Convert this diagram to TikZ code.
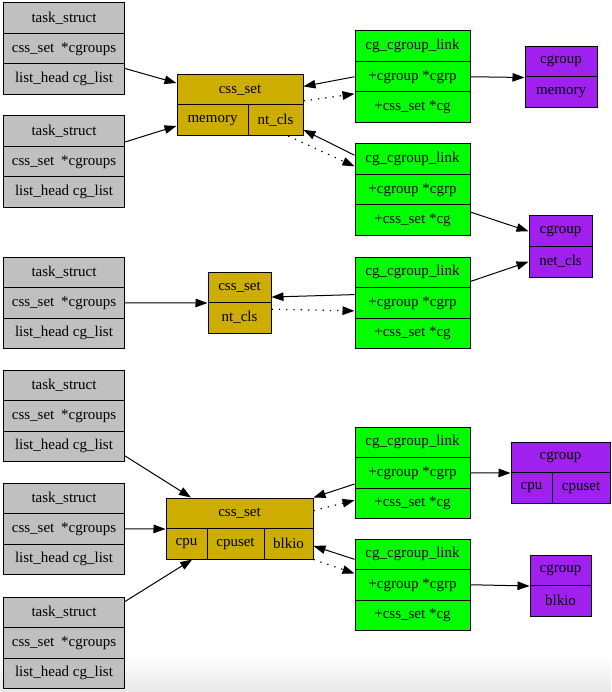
\documentclass[tikz,border=0pt]{standalone}
\usepackage{fontspec}
\setmainfont{Liberation Serif}
\usetikzlibrary{arrows.meta}

\definecolor{tskgray}{HTML}{C0C0C0}
\definecolor{csetgold}{HTML}{CDAD00}
\definecolor{lnkgreen}{HTML}{00FF00}
\definecolor{cgrppurple}{HTML}{A020F0}

\tikzset{
  fld/.style={draw, line width=1pt, inner sep=0pt, minimum height=30.5pt,
    font=\rmfamily\fontsize{15}{18}\selectfont},
  tsk/.style={fld, fill=tskgray, minimum width=121pt},
  lnk/.style={fld, fill=lnkgreen, minimum width=115pt},
  cset/.style={fld, fill=csetgold},
  cgrp/.style={fld, fill=cgrppurple},
  ptr/.style={->, line width=1pt},
  back/.style={->, line width=1.2pt, dash pattern=on 1.3pt off 6pt},
}

\begin{document}
\begin{tikzpicture}[x=1pt,y=-1pt,>={Triangle[length=12pt,width=8.5pt]}]

\useasboundingbox (0,0) rectangle (611,692);
\shade[top color=white,bottom color=black!9] (0,655) rectangle (611,692);

% task_struct
\foreach \i/\y in {1/3,2/116,3/257,4/370,5/483,6/597}{
  \node[tsk] (ts\i-a) at (64,\y+15.25) {task\_struct};
  \node[tsk] (ts\i-b) at (64,\y+45.75) {css\_set\hspace{3pt} *cgroups};
  \node[tsk] (ts\i-c) at (64,\y+76.25) {list\_head cg\_list};
}

% cg_cgroup_link
\foreach \i/\y in {1/31,2/144,3/257,4/427,5/539}{
  \node[lnk] (lk\i-a) at (412.5,\y+15.25) {cg\_cgroup\_link};
  \node[lnk] (lk\i-b) at (412.5,\y+45.75) {+cgroup *cgrp};
  \node[lnk] (lk\i-c) at (412.5,\y+76.25) {+css\_set *cg};
}

% css_set
\node[cset,minimum width=126pt] (css1-a) at (240,89.75) {css\_set};
\node[cset,minimum width=71pt] (css1-m) at (212.5,120.25) {memory};
\node[cset,minimum width=55pt] (css1-n) at (275.5,120.25) {nt\_cls};

\node[cset,minimum width=63pt] (css2-a) at (239.5,287.25) {css\_set};
\node[cset,minimum width=63pt] (css2-b) at (239.5,317.75) {nt\_cls};

\node[cset,minimum width=147pt] (css3-a) at (239.5,513.25) {css\_set};
\node[cset,minimum width=41pt] (css3-c) at (186.5,543.75) {cpu};
\node[cset,minimum width=57pt] (css3-d) at (235.5,543.75) {cpuset};
\node[cset,minimum width=49pt] (css3-e) at (288.5,543.75) {blkio};

% cgroup
\node[cgrp,minimum width=72pt] (cg1-a) at (561,61.75) {cgroup};
\node[cgrp,minimum width=72pt] (cg1-b) at (561,92.25) {memory};

\node[cgrp,minimum width=63pt] (cg2-a) at (560.5,231.25) {cgroup};
\node[cgrp,minimum width=63pt] (cg2-b) at (560.5,261.75) {net\_cls};

\node[cgrp,minimum width=99pt] (cg3-a) at (560.5,457.25) {cgroup};
\node[cgrp,minimum width=41pt] (cg3-c) at (531.5,487.75) {cpu};
\node[cgrp,minimum width=58pt] (cg3-d) at (581,487.75) {cpuset};

\node[cgrp,minimum width=61pt] (cg4-a) at (560.5,570.25) {cgroup};
\node[cgrp,minimum width=61pt] (cg4-b) at (560.5,600.75) {blkio};

% task -> css_set
\draw[ptr] (ts1-c.10) -- (css1-a.174);
\draw[ptr] (ts2-a.-10) -- (css1-m.189);
\draw[ptr] (ts3-b.east) -- (css2-a.south west);
\draw[ptr] (ts4-c.-9) -- (css3-a.162);
\draw[ptr] (ts5-b.east) -- (css3-a.south west);
\draw[ptr] (ts6-a.10) -- (css3-c.-70);

% link <-> css_set
\draw[ptr] (lk1-b.west) -- (css1-a.3);
\draw[back] (css1-a.-10) -- (lk1-c.167);
\draw[ptr] (lk2-a.176) -- (css1-n.-19.5);
\draw[back] (css1-n.-51) -- (lk2-a.187);
\draw[ptr] (lk3-b.172) -- (css2-a.-17);
\draw[back] (css2-b.15) -- (lk3-b.188);
\draw[ptr] (lk4-b.191) -- (css3-a.north east);
\draw[back] (css3-a.2) -- (lk4-c.177);
\draw[ptr] (lk5-a.185) -- (css3-e.-5);
\draw[back] (css3-e.south east) -- (lk5-b.169);

% link -> cgroup
\draw[ptr] (lk1-b.east) -- (cg1-a.south west);
\draw[ptr] (lk2-c.8) -- (cg2-a.west);
\draw[ptr] (lk3-a.-9) -- (cg2-b.west);
\draw[ptr] (lk4-b.east) -- (cg3-a.south west);
\draw[ptr] (lk5-b.east) -- (cg4-a.south west);

\end{tikzpicture}
\end{document}
